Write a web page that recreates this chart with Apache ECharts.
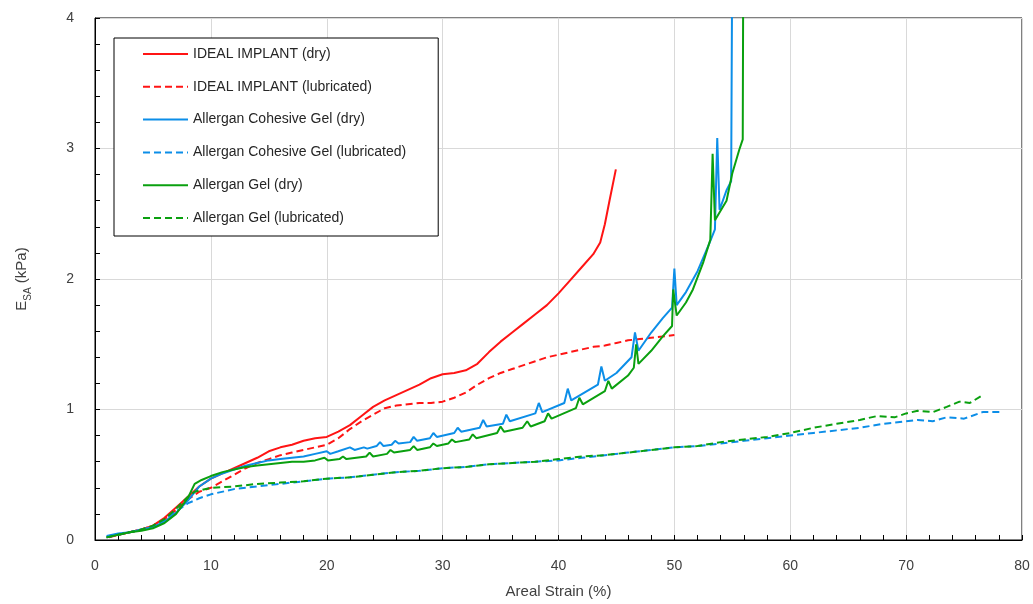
<!DOCTYPE html>
<html>
<head>
<meta charset="utf-8">
<script src="https://cdn.jsdelivr.net/npm/echarts@6/dist/echarts.min.js"></script>
<style>
html,body{margin:0;padding:0;background:#fff;}
#chart{width:1033px;height:604px;}
</style>
</head>
<body>
<div id="chart"></div>
<script>
// ---- data (x = Areal Strain %, y = E_SA kPa) ----
const seriesNames = [
  'IDEAL IMPLANT (dry)',
  'IDEAL IMPLANT (lubricated)',
  'Allergan Cohesive Gel (dry)',
  'Allergan Cohesive Gel (lubricated)',
  'Allergan Gel (dry)',
  'Allergan Gel (lubricated)'
];

const idealDry = [[1.0,0.02],[2,0.04],[3,0.06],[4,0.08],[5,0.11],[6,0.17],[7,0.25],[8,0.33],[9,0.41],[10,0.47],[11,0.51],[12,0.55],[13,0.59],[14,0.63],[15,0.68],[16,0.71],[17,0.73],[18,0.76],[19,0.78],[20,0.79],[21,0.83],[22,0.88],[23,0.95],[24,1.02],[25,1.07],[26,1.11],[27,1.15],[28,1.19],[29,1.24],[30,1.27],[31,1.28],[32,1.30],[33,1.35],[34,1.44],[35,1.52],[36,1.59],[37,1.66],[38,1.73],[39,1.80],[40,1.89],[41,1.99],[42,2.09],[43,2.19],[43.6,2.28],[44,2.42],[44.4,2.60],[44.95,2.84]];

const idealLub = [[1.2,0.02],[2,0.04],[3,0.06],[4,0.08],[5,0.11],[6,0.16],[7,0.23],[8,0.31],[9,0.37],[10,0.40],[11,0.45],[12,0.50],[13,0.55],[14,0.59],[15,0.62],[16,0.65],[17,0.67],[18,0.69],[19,0.71],[20,0.73],[21,0.78],[22,0.85],[23,0.91],[24,0.96],[25,1.01],[26,1.03],[27,1.04],[28,1.05],[29,1.05],[30,1.06],[31,1.09],[32,1.13],[33,1.19],[34,1.24],[35,1.28],[36,1.31],[37,1.34],[38,1.37],[39,1.40],[40,1.42],[41,1.44],[42,1.46],[43,1.48],[44,1.49],[45,1.51],[46,1.53],[47,1.54],[48,1.55],[49,1.56],[50,1.57]];

const cohesiveDry = [[1.0,0.03],[2,0.05],[3,0.06],[4,0.08],[5,0.10],[6,0.14],[7,0.21],[8,0.30],[9,0.41],[10,0.47],[11,0.51],[12,0.54],[13,0.57],[14,0.59],[15,0.61],[16,0.62],[17,0.63],[18,0.64],[19,0.66],[20,0.68],[20.3,0.66],[21,0.68],[22,0.71],[22.4,0.69],[23.2,0.71],[23.5,0.70],[24.3,0.72],[24.6,0.75],[24.9,0.72],[25.6,0.73],[25.9,0.76],[26.2,0.74],[27.2,0.75],[27.5,0.79],[27.8,0.76],[28.9,0.78],[29.2,0.82],[29.5,0.79],[31.0,0.82],[31.3,0.86],[31.6,0.83],[33.2,0.86],[33.5,0.92],[33.8,0.87],[35.2,0.89],[35.5,0.96],[35.8,0.91],[38.0,0.97],[38.3,1.05],[38.6,0.98],[40.5,1.05],[40.8,1.16],[41.1,1.07],[43.4,1.19],[43.7,1.33],[44.0,1.22],[45,1.28],[46.3,1.40],[46.6,1.59],[46.9,1.45],[48,1.59],[49,1.70],[49.8,1.78],[50.0,2.08],[50.2,1.80],[51,1.90],[52,2.06],[53,2.27],[53.5,2.38],[53.7,3.08],[53.9,2.53],[54.5,2.68],[54.9,2.75],[55.0,4.6]];

const cohesiveLub = [[1.0,0.02],[2,0.04],[3,0.06],[4,0.08],[5,0.10],[6,0.15],[7,0.22],[8,0.28],[9,0.32],[10,0.35],[12,0.39],[14,0.41],[16,0.43],[18,0.45],[20,0.47],[22,0.48],[24,0.50],[26,0.52],[28,0.53],[30,0.55],[32,0.56],[34,0.58],[36,0.59],[38,0.60],[40,0.61],[42,0.63],[44,0.65],[46,0.67],[48,0.69],[50,0.71],[52,0.72],[54,0.74],[56,0.76],[58,0.78],[60,0.80],[62,0.82],[64,0.84],[66,0.86],[68,0.89],[70,0.91],[71,0.92],[72.3,0.91],[73.5,0.94],[75,0.93],[76.6,0.98],[78.1,0.98]];

const gelDry = [[1.0,0.02],[2,0.04],[3,0.06],[4,0.07],[5,0.09],[6,0.13],[7,0.20],[8,0.32],[8.6,0.43],[9.2,0.46],[10,0.49],[11,0.52],[12,0.54],[13,0.56],[14,0.57],[15,0.58],[16,0.59],[17,0.60],[18,0.60],[19,0.61],[19.8,0.63],[20.1,0.61],[21.1,0.62],[21.4,0.64],[21.7,0.62],[23.4,0.64],[23.7,0.67],[24.0,0.64],[25.2,0.66],[25.5,0.69],[25.8,0.67],[27.2,0.69],[27.5,0.72],[27.8,0.69],[28.9,0.71],[29.2,0.74],[29.5,0.72],[30.5,0.74],[30.8,0.77],[31.1,0.75],[32.3,0.77],[32.6,0.81],[32.9,0.78],[34.7,0.82],[35.0,0.87],[35.3,0.83],[36.9,0.86],[37.3,0.91],[37.6,0.87],[38.8,0.91],[39.1,0.97],[39.4,0.93],[41.5,1.01],[41.8,1.09],[42.1,1.04],[44.0,1.14],[44.3,1.22],[44.6,1.16],[46,1.26],[46.5,1.32],[46.7,1.50],[46.9,1.35],[48,1.45],[49,1.56],[49.8,1.64],[49.9,1.92],[50.2,1.72],[51,1.82],[51.6,1.92],[52.5,2.13],[53.1,2.30],[53.3,2.96],[53.5,2.45],[54.5,2.60],[55.0,2.81],[55.6,2.99],[55.9,3.07],[55.95,4.6]];

const gelLub = [[1.0,0.02],[2,0.04],[3,0.06],[4,0.08],[5,0.11],[6,0.16],[7,0.24],[8,0.33],[8.6,0.37],[10,0.40],[12,0.41],[14,0.43],[16,0.44],[18,0.45],[20,0.47],[22,0.48],[24,0.50],[26,0.52],[28,0.53],[30,0.55],[32,0.56],[34,0.58],[36,0.59],[38,0.60],[40,0.62],[42,0.64],[44,0.65],[46,0.67],[48,0.69],[50,0.71],[52,0.72],[54,0.75],[56,0.77],[58,0.79],[60,0.82],[62,0.86],[64,0.89],[66,0.92],[67.5,0.95],[69,0.94],[70,0.97],[71,0.99],[72.3,0.98],[73.5,1.02],[74.6,1.06],[75.5,1.05],[76.6,1.11]];

const xTickValues = [0,10,20,30,40,50,60,70,80];
const yTickValues = [0,1,2,3,4];

// ---- chart ----
const RED = '#ff1414', BLUE = '#0c8ee8', GREEN = '#0aa00f';
const seriesData = [idealDry, idealLub, cohesiveDry, cohesiveLub, gelDry, gelLub];
const colors = [RED, RED, BLUE, BLUE, GREEN, GREEN];
const dashed = [false, true, false, true, false, true];

const chart = echarts.init(document.getElementById('chart'), null, {renderer: 'canvas'});
const font = '"Liberation Sans", Arial, sans-serif';
const labelColor = '#404040';

chart.setOption({
  animation: false,
  backgroundColor: '#fff',
  textStyle: {fontFamily: font},
  grid: {left: 95, right: 11, top: 18, bottom: 64, show: true, borderColor: '#000', borderWidth: 1, backgroundColor: 'transparent'},
  legend: {
    orient: 'vertical',
    left: 114, top: 38,
    data: seriesNames,
    itemWidth: 45, itemHeight: 14, itemGap: 18.8,
    padding: [9, 32, 11, 28],
    borderColor: '#000', borderWidth: 1,
    backgroundColor: '#fff',
    itemStyle: {color: 'transparent', borderColor: 'transparent', borderWidth: 0, opacity: 0},
    textStyle: {fontSize: 14, color: '#262626', fontFamily: font}
  },
  xAxis: {
    type: 'value', min: 0, max: 80, interval: 10,
    name: 'Areal Strain (%)', nameLocation: 'middle', nameGap: 44,
    nameTextStyle: {fontSize: 15, color: labelColor},
    axisLine: {show: true, onZero: false, lineStyle: {color: '#000', width: 1}},
    axisTick: {show: true, inside: true, length: 5, lineStyle: {color: '#000'}},
    minorTick: {show: true, splitNumber: 5, length: 5, lineStyle: {color: '#000'}},
    axisLabel: {fontSize: 14, color: labelColor, margin: 19,
      formatter: v => xTickValues.includes(v) ? String(v) : ''},
    splitLine: {show: true, lineStyle: {color: '#d9d9d9', width: 1}}
  },
  yAxis: {
    type: 'value', min: 0, max: 4, interval: 1,
    name: '{a|E}{s|SA}{a| (kPa)}', nameLocation: 'middle', nameGap: 62,
    nameTextStyle: {
      color: labelColor,
      rich: {
        a: {fontSize: 15, color: labelColor, lineHeight: 22, fontFamily: font},
        s: {fontSize: 10, color: labelColor, verticalAlign: 'bottom', fontFamily: font}
      }
    },
    axisLine: {show: true, onZero: false, lineStyle: {color: '#000', width: 1}},
    axisTick: {show: true, inside: true, length: 5, lineStyle: {color: '#000'}},
    minorTick: {show: true, splitNumber: 5, length: 5, lineStyle: {color: '#000'}},
    axisLabel: {fontSize: 14, color: labelColor, margin: 21,
      formatter: v => yTickValues.includes(v) ? String(v) : ''},
    splitLine: {show: true, lineStyle: {color: '#d9d9d9', width: 1}}
  },
  series: seriesNames.map((name, i) => ({
    name: name,
    type: 'line',
    data: seriesData[i],
    symbol: 'none',
    showSymbol: false,
    clip: true,
    color: colors[i],
    lineStyle: {color: colors[i], width: 2, type: dashed[i] ? [7, 4] : 'solid'},
    emphasis: {disabled: true}
  }))
});
</script>
</body>
</html>
